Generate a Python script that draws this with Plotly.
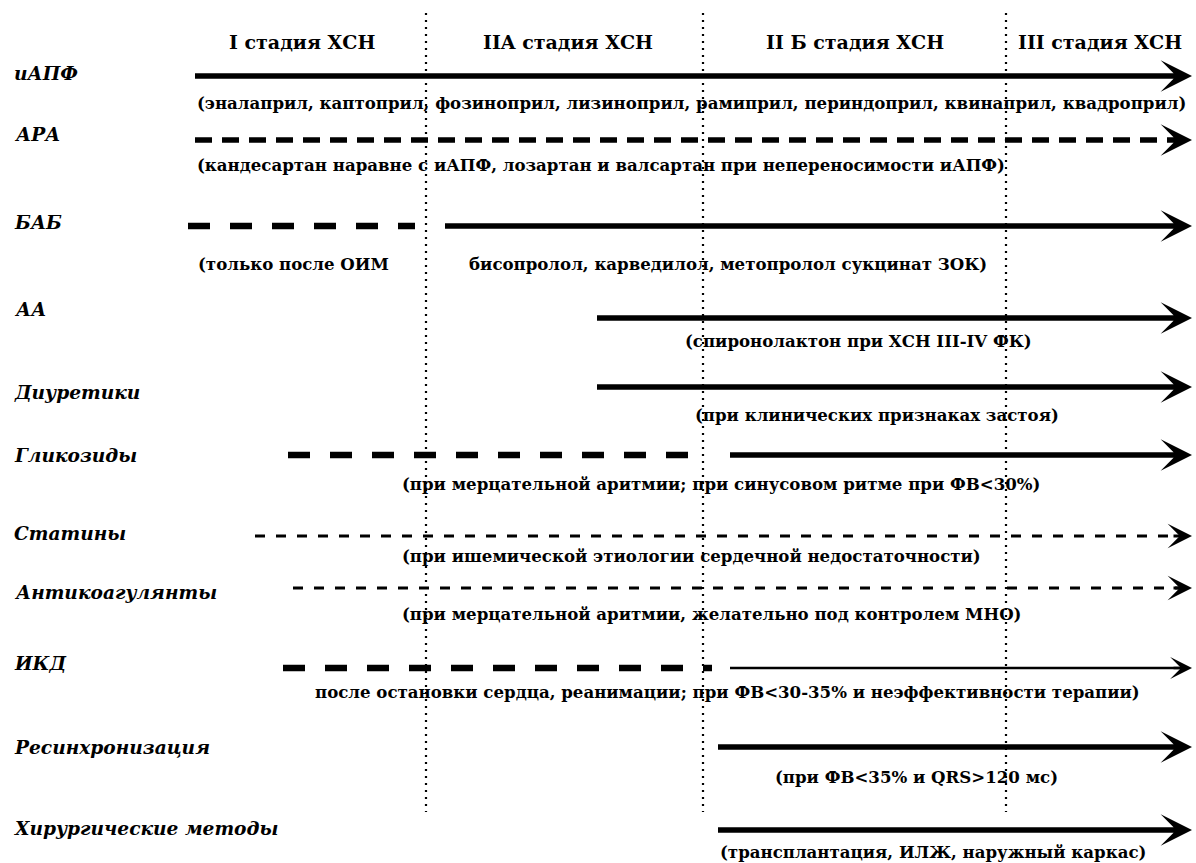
import plotly.graph_objects as go

# ---- data ----
stages = ["I стадия ХСН", "IIA стадия ХСН", "II Б стадия ХСН", "III стадия ХСН"]
stage_x = [302, 568, 855, 1100]
stage_y = 42
divider_x = [426, 703, 1006]
divider_y = [13, 812]

rows = ["иАПФ", "АРА", "БАБ", "АА", "Диуретики", "Гликозиды", "Статины",
        "Антикоагулянты", "ИКД", "Ресинхронизация", "Хирургические методы"]
label_y = [73, 134, 222, 309, 392, 455, 533, 592, 663, 747, 828]
line_y = [76, 140, 226, 318, 387, 455, 536, 588, 668, 747, 830]

# optional dashed lead-in segment (start, end) or None
lead_start = [None, None, 188, None, None, 288, None, None, 283, None, None]
lead_end = [None, None, 415, None, None, 690, None, None, 712, None, None]
# main arrow segment start
main_start = [195, 195, 445, 597, 597, 730, 255, 293, 730, 718, 718]
arrow_tip = 1192
# style of main segment: solid / dashed / thindash / thin
main_style = ["solid", "dashed", "solid", "solid", "solid", "solid",
              "thindash", "thindash", "thin", "solid", "solid"]

notes = [
    ["(эналаприл, каптоприл, фозиноприл, лизиноприл, рамиприл, периндоприл, квинаприл, квадроприл)"],
    ["(кандесартан наравне с иАПФ, лозартан и валсартан при непереносимости иАПФ)"],
    ["(только после ОИМ", "бисопролол, карведилол, метопролол сукцинат ЗОК)"],
    ["(спиронолактон при ХСН III-IV ФК)"],
    ["(при клинических признаках застоя)"],
    ["(при мерцательной аритмии; при синусовом ритме при ФВ<30%)"],
    ["(при ишемической этиологии сердечной недостаточности)"],
    ["(при мерцательной аритмии, желательно под контролем МНО)"],
    ["после остановки сердца, реанимации; при ФВ<30-35% и неэффективности терапии)"],
    ["(при ФВ<35% и QRS>120 мс)"],
    ["(трансплантация, ИЛЖ, наружный каркас)"],
]
note_x = [[195], [195], [196, 467], [683], [693], [400], [400], [400], [313], [773], [718]]
note_y = [103, 165, 264, 341, 415, 484, 556, 614, 692, 777, 852]

FONT = "DejaVu Serif"
STYLE = {
    "solid": dict(width=5.5, dash="solid"),
    "dashed": dict(width=5.5, dash="17px,10px"),
    "thindash": dict(width=2.8, dash="10px,11px"),
    "thin": dict(width=2.6, dash="solid"),
    "lead": dict(width=6.5, dash="22px,20px"),
}
HEAD = {"solid": 0.95, "dashed": 0.95, "thindash": 1.45, "thin": 1.4}

fig = go.Figure()

# dotted stage dividers
for dx in divider_x:
    fig.add_trace(go.Scatter(x=[dx, dx], y=divider_y, mode="lines",
                             line=dict(color="black", width=2.2, dash="2px,5px"),
                             hoverinfo="skip", showlegend=False))

annotations = []
for i, name in enumerate(rows):
    y = line_y[i]
    if lead_start[i] is not None:
        fig.add_trace(go.Scatter(x=[lead_start[i], lead_end[i]], y=[y, y], mode="lines",
                                 line=dict(color="black", **STYLE["lead"]),
                                 hoverinfo="skip", showlegend=False))
    st = STYLE[main_style[i]]
    fig.add_trace(go.Scatter(x=[main_start[i], arrow_tip - 12], y=[y, y], mode="lines",
                             line=dict(color="black", **st),
                             hoverinfo="skip", showlegend=False))
    annotations.append(dict(x=arrow_tip, y=y, ax=arrow_tip - 20, ay=y,
                            xref="x", yref="y", axref="x", ayref="y",
                            text="", showarrow=True, arrowhead=3,
                            arrowwidth=st["width"], arrowsize=HEAD[main_style[i]],
                            arrowcolor="black"))
    annotations.append(dict(x=12, y=label_y[i], xref="x", yref="y", text="<b><i>%s</i></b>" % name,
                            showarrow=False, xanchor="left", yanchor="middle",
                            font=dict(family=FONT, size=18.6, color="black")))
    for t, tx in zip(notes[i], note_x[i]):
        annotations.append(dict(x=tx, y=note_y[i], xref="x", yref="y", text="<b>%s</b>" % t,
                                showarrow=False, xanchor="left", yanchor="middle",
                                font=dict(family=FONT, size=16.6, color="black")))

for s, sx in zip(stages, stage_x):
    annotations.append(dict(x=sx, y=stage_y, xref="x", yref="y", text="<b>%s</b>" % s,
                            showarrow=False, xanchor="center", yanchor="middle",
                            font=dict(family=FONT, size=19, color="black")))

fig.update_layout(
    width=1196, height=863,
    margin=dict(l=0, r=0, t=0, b=0),
    paper_bgcolor="white", plot_bgcolor="white",
    xaxis=dict(range=[0, 1196], visible=False, fixedrange=True),
    yaxis=dict(range=[863, 0], visible=False, fixedrange=True),
    annotations=annotations,
    showlegend=False,
)

fig.write_html("out.html", config={"displayModeBar": False},
               post_script="document.body.style.margin='0';document.body.style.overflow='hidden';")
